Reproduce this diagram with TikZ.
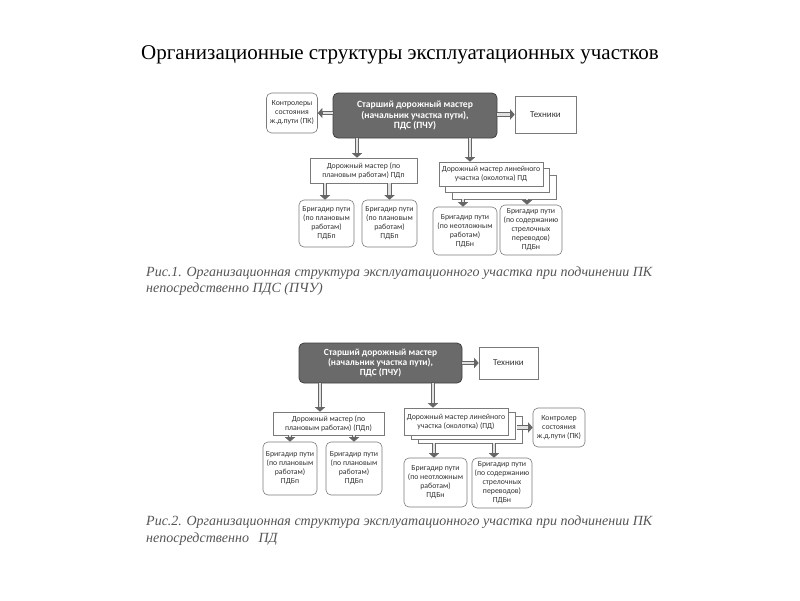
\documentclass[tikz,border=0pt]{standalone}
\usepackage{fontspec}
\setmainfont{Liberation Serif}
\newfontfamily\dfont{Carlito}
\usetikzlibrary{arrows.meta,shadows,calc}
\definecolor{boxline}{HTML}{7A7A7A}
\definecolor{txt}{HTML}{333333}
\definecolor{mainfill}{HTML}{6A6A6A}
\definecolor{capt}{HTML}{555555}
\begin{document}
\begin{tikzpicture}[x=1pt,y=-1pt,
  box/.style={draw=boxline, line width=0.6pt, fill=white, text=txt, align=center, inner sep=0pt,
    font=\dfont\fontsize{7.8}{9}\selectfont},
  rbox/.style={box, rounded corners=5pt},
  mainbox/.style={draw=black!75, line width=0.8pt, fill=mainfill, rounded corners=5pt, text=white,
    align=center, inner sep=0pt, font=\dfont\bfseries\fontsize{9.6}{10.5}\selectfont},
  stackA/.style={double copy shadow={shadow xshift=6.5pt, shadow yshift=-6.5pt, draw=boxline, fill=white}},
  stackB/.style={double copy shadow={shadow xshift=7pt, shadow yshift=-4pt, draw=boxline, fill=white}},
  blockarrow/.style={draw=black!60, line width=4.5pt, -{Triangle[length=4.5pt,width=10pt]},
    postaction={draw=black!12, line width=2.2pt, -, shorten >=5pt}},
  titlefont/.style={font=\fontsize{21}{24}\selectfont, text=black, inner sep=0pt},
  caption/.style={font=\itshape\fontsize{14}{16}\selectfont, text=capt, anchor=west, inner sep=0pt}
]
\fill[white] (0,0) rectangle (800,600);
\useasboundingbox (0,0) rectangle (800,600);

\node[titlefont] (title) at (400,55) {Организационные структуры эксплуатационных участков};

% ---------- diagram 1 ----------
\node[mainbox, minimum width=164pt, minimum height=45pt] (M1) at (415,115.5)
  {Старший дорожный мастер\\(начальник участка пути),\\ПДС (ПЧУ)};
\node[rbox, minimum width=51pt, minimum height=40pt] (K1) at (292,113)
  {Контролеры\\состояния\\ж.д.пути (ПК)};
\node[box, minimum width=61pt, minimum height=37pt, font=\dfont\fontsize{9}{10}\selectfont] (T1) at (545.5,114.5) {Техники};
\node[box, minimum width=107pt, minimum height=25pt] (P1) at (363.5,170.5)
  {Дорожный мастер (по\\плановым работам) ПДп};
\node[box, stackA, minimum width=104pt, minimum height=24pt] (L1) at (491,174)
  {Дорожный мастер линейного\\участка (околотка) ПД};
\node[rbox, minimum width=55pt, minimum height=47pt] (B1) at (326.5,223.5)
  {Бригадир пути\\(по плановым\\работам)\\ПДБп};
\node[rbox, minimum width=55pt, minimum height=47pt] (B2) at (389.5,223.5)
  {Бригадир пути\\(по плановым\\работам)\\ПДБп};
\node[rbox, minimum width=64pt, minimum height=48pt] (B3) at (465,231)
  {Бригадир пути\\(по неотложным\\работам)\\ПДБн};
\node[rbox, minimum width=62pt, minimum height=50pt] (B4) at (531,230)
  {Бригадир пути\\(по содержанию\\стрелочных\\переводов)\\ПДБн};

\draw[blockarrow] (M1.west |- K1.east) -- (K1.east);
\draw[blockarrow] (M1.east |- T1.west) -- (T1.west);
\coordinate (m1a) at ([xshift=-58pt]M1.south);
\coordinate (m1b) at ([xshift=55pt]M1.south);
\draw[blockarrow] (m1a) -- (m1a |- P1.north);
\draw[blockarrow] (m1b) -- (m1b |- L1.north);
\coordinate (p1a) at ([xshift=-1.5pt]B1.north);
\coordinate (p1b) at (B2.north);
\draw[blockarrow] (p1a |- P1.south) -- (p1a);
\draw[blockarrow] (p1b |- P1.south) -- (p1b);
\coordinate (l1s) at ([yshift=-13pt]L1.south);
\coordinate (l1a) at ([xshift=-2pt]B3.north);
\coordinate (l1b) at ([xshift=-4pt]B4.north);
\draw[blockarrow] (l1a |- l1s) -- (l1a);
\draw[blockarrow] (l1b |- l1s) -- (l1b);

\node[caption] (c1a) at (146,273) {Рис.1. Организационная структура эксплуатационного участка при подчинении ПК};
\node[caption] (c1b) at (146,289) {непосредственно ПДС (ПЧУ)};

% ---------- diagram 2 ----------
\node[mainbox, minimum width=163pt, minimum height=40pt, font=\dfont\bfseries\fontsize{9.4}{9.8}\selectfont] (M2) at (380.5,363)
  {Старший дорожный мастер\\(начальник участка пути),\\ПДС (ПЧУ)};
\node[box, minimum width=59pt, minimum height=32pt, font=\dfont\fontsize{9}{10}\selectfont] (T2) at (508.5,363) {Техники};
\node[box, minimum width=111pt, minimum height=23pt] (P2) at (328.5,423.5)
  {Дорожный мастер (по\\плановым работам) (ПДп)};
\node[box, stackB, minimum width=104pt, minimum height=27pt] (L2) at (456,421.5)
  {Дорожный мастер линейного\\участка (околотка) (ПД)};
\node[rbox, minimum width=52pt, minimum height=39pt] (K2) at (559,427.5)
  {Контролер\\состояния\\ж.д.пути (ПК)};
\node[rbox, minimum width=54pt, minimum height=53pt] (C1) at (290,468.5)
  {Бригадир пути\\(по плановым\\работам)\\ПДБп};
\node[rbox, minimum width=56pt, minimum height=53pt] (C2) at (354,468.5)
  {Бригадир пути\\(по плановым\\работам)\\ПДБп};
\node[rbox, minimum width=63pt, minimum height=49pt] (C3) at (435.5,482.5)
  {Бригадир пути\\(по неотложным\\работам)\\ПДБн};
\node[rbox, minimum width=60pt, minimum height=50pt] (C4) at (502,483)
  {Бригадир пути\\(по содержанию\\стрелочных\\переводов)\\ПДБн};

\draw[blockarrow] (M2.east |- T2.west) -- (T2.west);
\coordinate (m2a) at ([xshift=-60.5pt]M2.south);
\coordinate (m2b) at ([xshift=52.5pt]M2.south);
\draw[blockarrow] (m2a) -- (m2a |- P2.north);
\draw[blockarrow] (m2b) -- (m2b |- L2.north);
\draw[blockarrow] (C1.north |- P2.south) -- (C1.north);
\draw[blockarrow] (C2.north |- P2.south) -- (C2.north);
\coordinate (l2s) at ([yshift=-8pt]L2.south);
\coordinate (l2a) at ([xshift=-1.5pt]C3.north);
\coordinate (l2b) at ([xshift=-8pt]C4.north);
\draw[blockarrow] (l2a |- l2s) -- (l2a);
\draw[blockarrow] (l2b |- l2s) -- (l2b);
\coordinate (l2e) at ([xshift=9pt]L2.east);
\draw[blockarrow] (l2e |- K2.west) -- (K2.west);

\node[caption] (c2a) at (146,522) {Рис.2. Организационная структура эксплуатационного участка при подчинении ПК};
\node[caption] (c2b) at (146,539) {непосредственно\hspace{6pt} ПД};
\end{tikzpicture}
\end{document}
